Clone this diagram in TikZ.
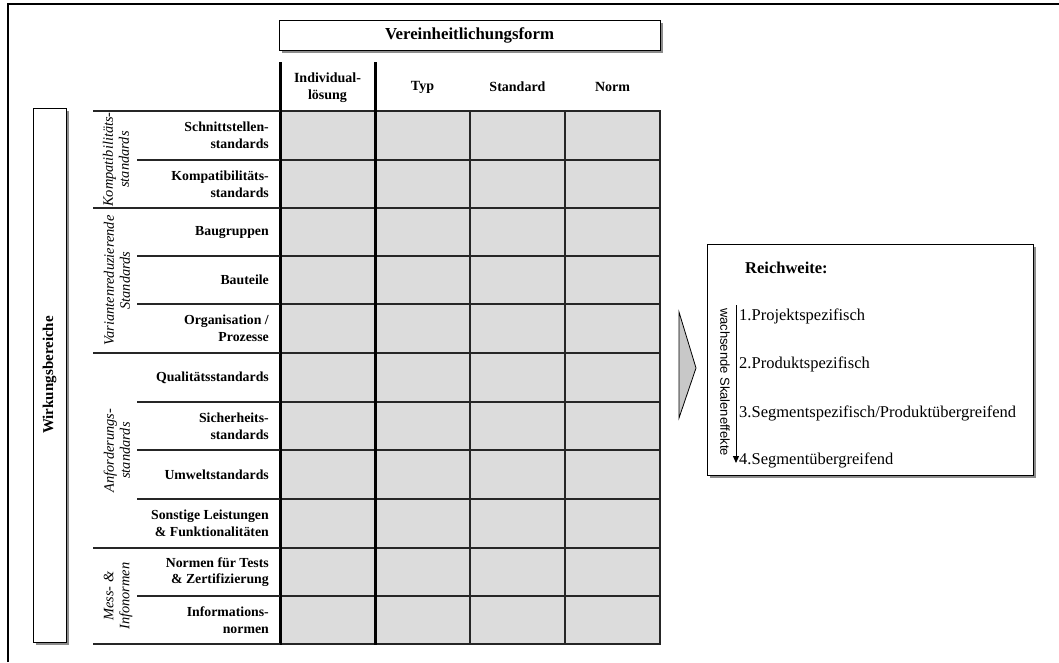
\documentclass[tikz,border=0pt]{standalone}
\usepackage{fontspec}
\setmainfont{Liberation Serif}
\setsansfont{Liberation Sans}
\usetikzlibrary{arrows.meta,shadows}
\definecolor{cellgray}{HTML}{DCDCDC}
\definecolor{arrowgray}{HTML}{C8C8C8}
\definecolor{shadowgray}{HTML}{8C8C8C}
\begin{document}
\begin{tikzpicture}[x=1pt,y=-1pt,
  frameline/.style={line width=2.3pt},
  shadowbox/.style={draw=black, line width=0.9pt, fill=white, inner sep=0pt,
    drop shadow={shadow xshift=3pt,shadow yshift=-3pt,fill=shadowgray,opacity=1}},
  cell/.style={fill=cellgray, draw=black!85, line width=1.3pt},
  sepline/.style={draw=black!85, line width=1.6pt},
  thickline/.style={line width=3pt},
  rowlab/.style={anchor=east, align=right, inner sep=0pt, font=\fontsize{13.8}{16.6}\selectfont\bfseries},
  grplab/.style={rotate=90, align=center, inner sep=0pt, font=\fontsize{14.4}{16}\selectfont\itshape},
  colhead/.style={align=center, inner sep=0pt, font=\fontsize{14}{16.8}\selectfont\bfseries},
  item/.style={anchor=base west, inner sep=0pt, font=\fontsize{16.5}{19}\selectfont},
]
\useasboundingbox (0,0) rectangle (1059,662);

% outer frame
\draw[frameline] (8,662) -- (8,4) -- (1059,4);

% header box
\node[shadowbox, minimum width=381pt, minimum height=30pt,
  font=\fontsize{16.8}{20}\selectfont\bfseries] (vform) at (469.5,35) {Vereinheitlichungsform};

% column headers
\node[colhead] (h1) at (327.5,88) {Individual-\\lösung};
\node[colhead] (h2) at (422.5,87) {Typ};
\node[colhead] (h3) at (517.5,87) {Standard};
\node[colhead] (h4) at (612.5,87) {Norm};

% grid cells
\foreach \ya/\yb in {111/160,160/208,208/256,256/304,304/353,353/402,402/450,450/499,499/548,548/596,596/644}{
  \foreach \xa/\xb in {280/375,375/470,470/565,565/660}{
    \draw[cell] (\xa,\ya) rectangle (\xb,\yb);
  }
}
% thick vertical lines
\draw[thickline] (280,62) -- (280,645);
\draw[thickline] (375,62) -- (375,645);

% label separator lines
\foreach \y in {111,208,353,548,644}{ \draw[sepline] (93,\y) -- (280,\y); }
\foreach \y in {160,256,304,402,450,499,596}{ \draw[sepline] (137,\y) -- (280,\y); }

% row labels
\node[rowlab] (r1) at (269,135.5) {Schnittstellen-\\standards};
\node[rowlab] (r2) at (269,184) {Kompatibilitäts-\\standards};
\node[rowlab] (r3) at (269,232) {Baugruppen};
\node[rowlab] (r4) at (269,280) {Bauteile};
\node[rowlab] (r5) at (269,328.5) {Organisation /\\Prozesse};
\node[rowlab] (r6) at (269,377.5) {Qualitätsstandards};
\node[rowlab] (r7) at (269,426) {Sicherheits-\\standards};
\node[rowlab] (r8) at (269,474.5) {Umweltstandards};
\node[rowlab] (r9) at (269,523.5) {Sonstige Leistungen\\\& Funktionalitäten};
\node[rowlab] (r10) at (269,572) {Normen für Tests\\\& Zertifizierung};
\node[rowlab] (r11) at (269,620) {Informations-\\normen};

% group labels
\node[grplab] (g1) at (116,159.5) {Kompatibilitäts-\\standards};
\node[grplab] (g2) at (117,280.5) {Variantenreduzierende\\Standards};
\node[grplab] (g3) at (117,450.5) {Anforderungs-\\standards};
\node[grplab] (g4) at (118,596) {Mess- \&\\Infonormen};

% Wirkungsbereiche box
\node[shadowbox, minimum width=33pt, minimum height=534pt] (wbox) at (49.5,375) {};
\node[rotate=90, inner sep=0pt, font=\fontsize{15}{18}\selectfont\bfseries] (wtext) at (wbox.center) {Wirkungsbereiche};

% big arrow
\draw[fill=arrowgray, line width=0.8pt] (679,312) -- (696,368) -- (679,418) -- cycle;

% right box
\node[shadowbox, minimum width=326pt, minimum height=231pt] (reach) at (870,359.5) {};
\node[anchor=base west, inner sep=0pt, font=\fontsize{16.5}{19}\selectfont\bfseries] (rw) at (745,273) {Reichweite:};
\node[item] (i1) at (739,320) {1.Projektspezifisch};
\node[item] (i2) at (739,368) {2.Produktspezifisch};
\node[item] (i3) at (739,417) {3.Segmentspezifisch/Produktübergreifend};
\node[item] (i4) at (739,464) {4.Segmentübergreifend};

\coordinate (atop) at (736,305);
\coordinate (abot) at (736,463);
\draw[line width=1pt, -{Triangle[length=7pt,width=6pt]}] (atop) -- (abot);
\node[rotate=-90, inner sep=0pt, font=\sffamily\fontsize{13}{15}\selectfont] (scale) at (725,382) {wachsende Skaleneffekte};

\end{tikzpicture}
\end{document}
